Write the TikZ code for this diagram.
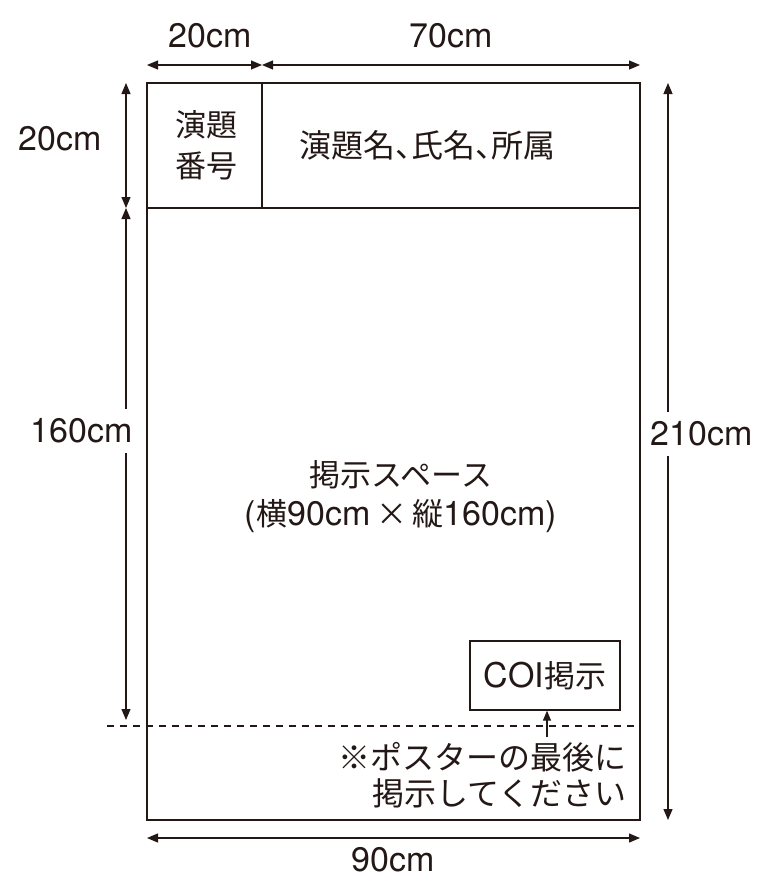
\documentclass[tikz,border=0pt]{standalone}
\usepackage{fontspec}
\setmainfont{TeX Gyre Heros}
\newfontfamily\jp{Noto Sans CJK JP}
\usetikzlibrary{arrows.meta}
\definecolor{ink}{HTML}{231815}
\newcommand{\hc}{\makebox[0.5em][l]{、}}
\begin{document}
\begin{tikzpicture}[x=1pt,y=-1pt,
  line/.style={draw=ink,line width=1.3pt},
  dim/.style={draw=ink,line width=1.2pt,{Triangle[length=11pt,width=9pt]}-{Triangle[length=11pt,width=9pt]}},
  lbl/.style={text=ink,font=\fontsize{34}{38}\selectfont,inner sep=0pt},
  gaplbl/.style={lbl,fill=white,inner ysep=10pt,inner xsep=1pt},
  jp/.style={text=ink,inner sep=0pt,align=center}]
\useasboundingbox (0,0) rectangle (772,886);
% poster
\coordinate (TL) at (147,83);
\coordinate (BR) at (640,820);
\draw[line] (TL) rectangle (BR);
\coordinate (hl) at (147,208);
\coordinate (hr) at (640,208);
\draw[line] (hl) -- (hr);
\coordinate (dt) at (262,83);
\coordinate (db) at (262,208);
\draw[line] (dt) -- (db);
% dashed
\coordinate (dl) at (107,726);
\coordinate (dr) at (640,726);
\draw[line,dash pattern=on 7pt off 6pt] (dl) -- (dr);
% top dims
\coordinate (t1) at (147,65);
\coordinate (t2) at (262,65);
\coordinate (t3) at (640,65);
\draw[dim] (t1) -- (t2);
\draw[dim] (t2) -- (t3);
\node[lbl] (l20a) at (210,36) {20cm};
\node[lbl] (l70) at (451,36) {70cm};
% left dims
\coordinate (a1) at (126,83);
\coordinate (a2) at (126,208);
\coordinate (a3) at (126,720);
\draw[dim] (a1) -- (a2);
\draw[dim] (a2) -- (a3);
\node[lbl] (l20b) at (60,139) {20cm};
\node[gaplbl] (l160) at (82,431) {160cm};
% right dim
\coordinate (r1) at (668,83);
\coordinate (r2) at (668,820);
\draw[dim] (r1) -- (r2);
\node[gaplbl] (l210) at (702,434) {210cm};
% bottom dim
\coordinate (b1) at (147,838);
\coordinate (b2) at (640,838);
\draw[dim] (b1) -- (b2);
\node[lbl] (l90) at (393,860) {90cm};
% header texts
\node[jp,font=\jp\fontsize{31}{41}\selectfont] (num) at (206,145) {演題\\番号};
\node[jp,font=\jp\fontsize{32}{38}\selectfont] (title) at (427,145) {演題名\hc 氏名\hc 所属};
% center
\node[jp,font=\fontsize{34}{39}\selectfont] (space) at (401,497) {{\jp\fontsize{31}{39}\selectfont 掲示スペース}\\({\jp\fontsize{31}{39}\selectfont 横}90cm\,{\jp\fontsize{31}{39}\selectfont ×}\,{\jp\fontsize{31}{39}\selectfont 縦}160cm)};
% COI
\node[jp,draw=ink,line width=1.3pt,minimum width=150pt,minimum height=69pt,font=\fontsize{34}{38}\selectfont] (coi) at (545,675.5) {COI{\jp\fontsize{31}{38}\selectfont 掲示}};
\node[jp,align=right,anchor=east,font=\jp\fontsize{32}{36}\selectfont] (note) at (627,775) {※ポスターの最後に\\掲示してください};
\coordinate (ns) at (547,737);
\draw[draw=ink,line width=1.2pt,-{Triangle[length=10pt,width=8pt]}] (ns) -- (coi.south -| ns);
\end{tikzpicture}
\end{document}
